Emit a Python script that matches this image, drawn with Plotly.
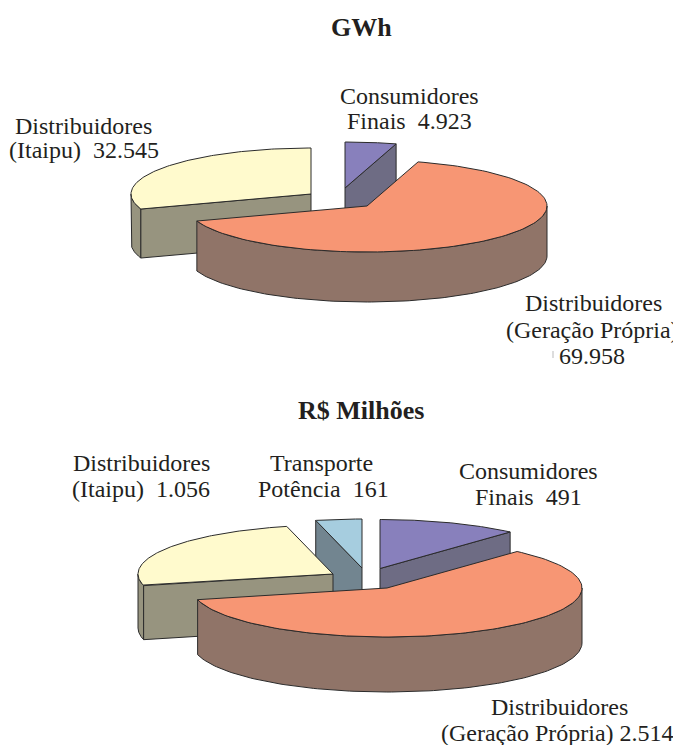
import numpy as np
import plotly.graph_objects as go

# Data
gwh_labels = ["Consumidores Finais", "Distribuidores (Geração Própria)", "Distribuidores (Itaipu)"]
gwh_values = [4.923, 69.958, 32.545]
brl_labels = ["Consumidores Finais", "Distribuidores (Geração Própria)", "Distribuidores (Itaipu)", "Transporte Potência"]
brl_values = [491, 2514, 1056, 161]

# Styles
PURPLE = ("#8880BC", "#6E6C84")
ORANGE = ("#F79674", "#907468")
YELLOW = ("#FFFACD", "#97947F")
BLUE = ("#A6CDDF", "#728590")
EDGE = "#2b2b2b"

fig = go.Figure()


def poly(xs, ys, color):
    fig.add_trace(go.Scatter(x=list(xs) + [xs[0]], y=list(ys) + [ys[0]], mode="lines",
                             fill="toself", fillcolor=color,
                             line=dict(color=EDGE, width=1), hoverinfo="skip", showlegend=False))


def spans(values):
    edges = np.cumsum([0] + list(values)) / sum(values) * 360.0
    return [(edges[i], edges[i + 1]) for i in range(len(values))]


def ell(apex, rx, ry, t):
    r = np.radians(t)
    return apex[0] + rx * np.sin(r), apex[1] - ry * np.cos(r)


def wedge(apex, t0, t1, rx, ry, depth, colors):
    ts = np.linspace(t0, t1, 121)
    ex, ey = ell(apex, rx, ry, ts)
    # outer rim: the part of the arc facing the viewer
    lo, hi = max(t0, 90), min(t1, 270)
    if hi > lo:
        rs = np.linspace(lo, hi, 121)
        rx_, ry_ = ell(apex, rx, ry, rs)
        poly(np.r_[rx_, rx_[::-1] ], np.r_[ry_, ry_[::-1] + depth], colors[1])
    # cut faces that face the viewer
    for t, vis in ((t0, np.sin(np.radians(t0)) < -1e-6), (t1, np.sin(np.radians(t1)) > 1e-6)):
        if vis:
            px, py = ell(apex, rx, ry, t)
            poly([apex[0], px, px, apex[0]], [apex[1], py, py + depth, apex[1] + depth], colors[1])
    poly(np.r_[apex[0], ex], np.r_[apex[1], ey], colors[0])


# GWh pie
s = spans(gwh_values)
rx1, ry1, d1 = 180, 46, 49
wedge((345, 188), *s[0], rx1, ry1, d1, PURPLE)
wedge((311, 194), *s[2], rx1, ry1, d1, YELLOW)
wedge((367, 206), *s[1], rx1, ry1, d1 + 1, ORANGE)

# R$ pie
s = spans(brl_values)
rx2, ry2, d2 = 195, 49, 54
wedge((380, 568.5), *s[0], rx2, ry2, d2, PURPLE)
wedge((362, 568), *s[3], rx2, ry2, d2, BLUE)
wedge((333, 574), *s[2], rx2, ry2, d2, YELLOW)
wedge((387, 588), *s[1], rx2, ry2, d2 + 1, ORANGE)

texts = [
    ("GWh", 361, 27, True),
    ("Consumidores", 409, 96, False), ("Finais  4.923", 409, 121, False),
    ("Distribuidores", 83, 126, False), ("(Itaipu)  32.545", 84, 150, False),
    ("Distribuidores", 593, 303, False), ("(Geração Própria)", 592, 330, False), ("69.958", 592, 356, False),
    ("R$ Milhões", 361, 410, True),
    ("Distribuidores", 141, 463, False), ("(Itaipu)  1.056", 141, 489, False),
    ("Transporte", 321, 463, False), ("Potência  161", 323, 489, False),
    ("Consumidores", 528, 471, False), ("Finais  491", 528, 497, False),
    ("Distribuidores", 559, 707, False), ("(Geração Própria) 2.514", 557, 733, False),
]
for t, x, y, bold in texts:
    fig.add_annotation(x=x, y=y, xref="x", yref="y", showarrow=False,
                       text=f"<b>{t}</b>" if bold else t.replace("  ", "\u00a0\u00a0"),
                       font=dict(family="Liberation Serif", size=26 if bold else 24, color="#231f20"),
                       xanchor="center", yanchor="middle")

fig.add_shape(type="line", x0=553, x1=553, y0=351, y1=358, line=dict(color="#bbbbbb", width=1))

# The page adds an 8 px body margin, so the plot covers pixels 8..681 and 8..745.
fig.update_layout(width=673, height=737, margin=dict(l=0, r=0, t=0, b=0),
                  paper_bgcolor="white", plot_bgcolor="white", showlegend=False,
                  xaxis=dict(range=[8, 681], visible=False),
                  yaxis=dict(range=[745, 8], visible=False))
fig.write_html("out.html", config={"displayModeBar": False})
